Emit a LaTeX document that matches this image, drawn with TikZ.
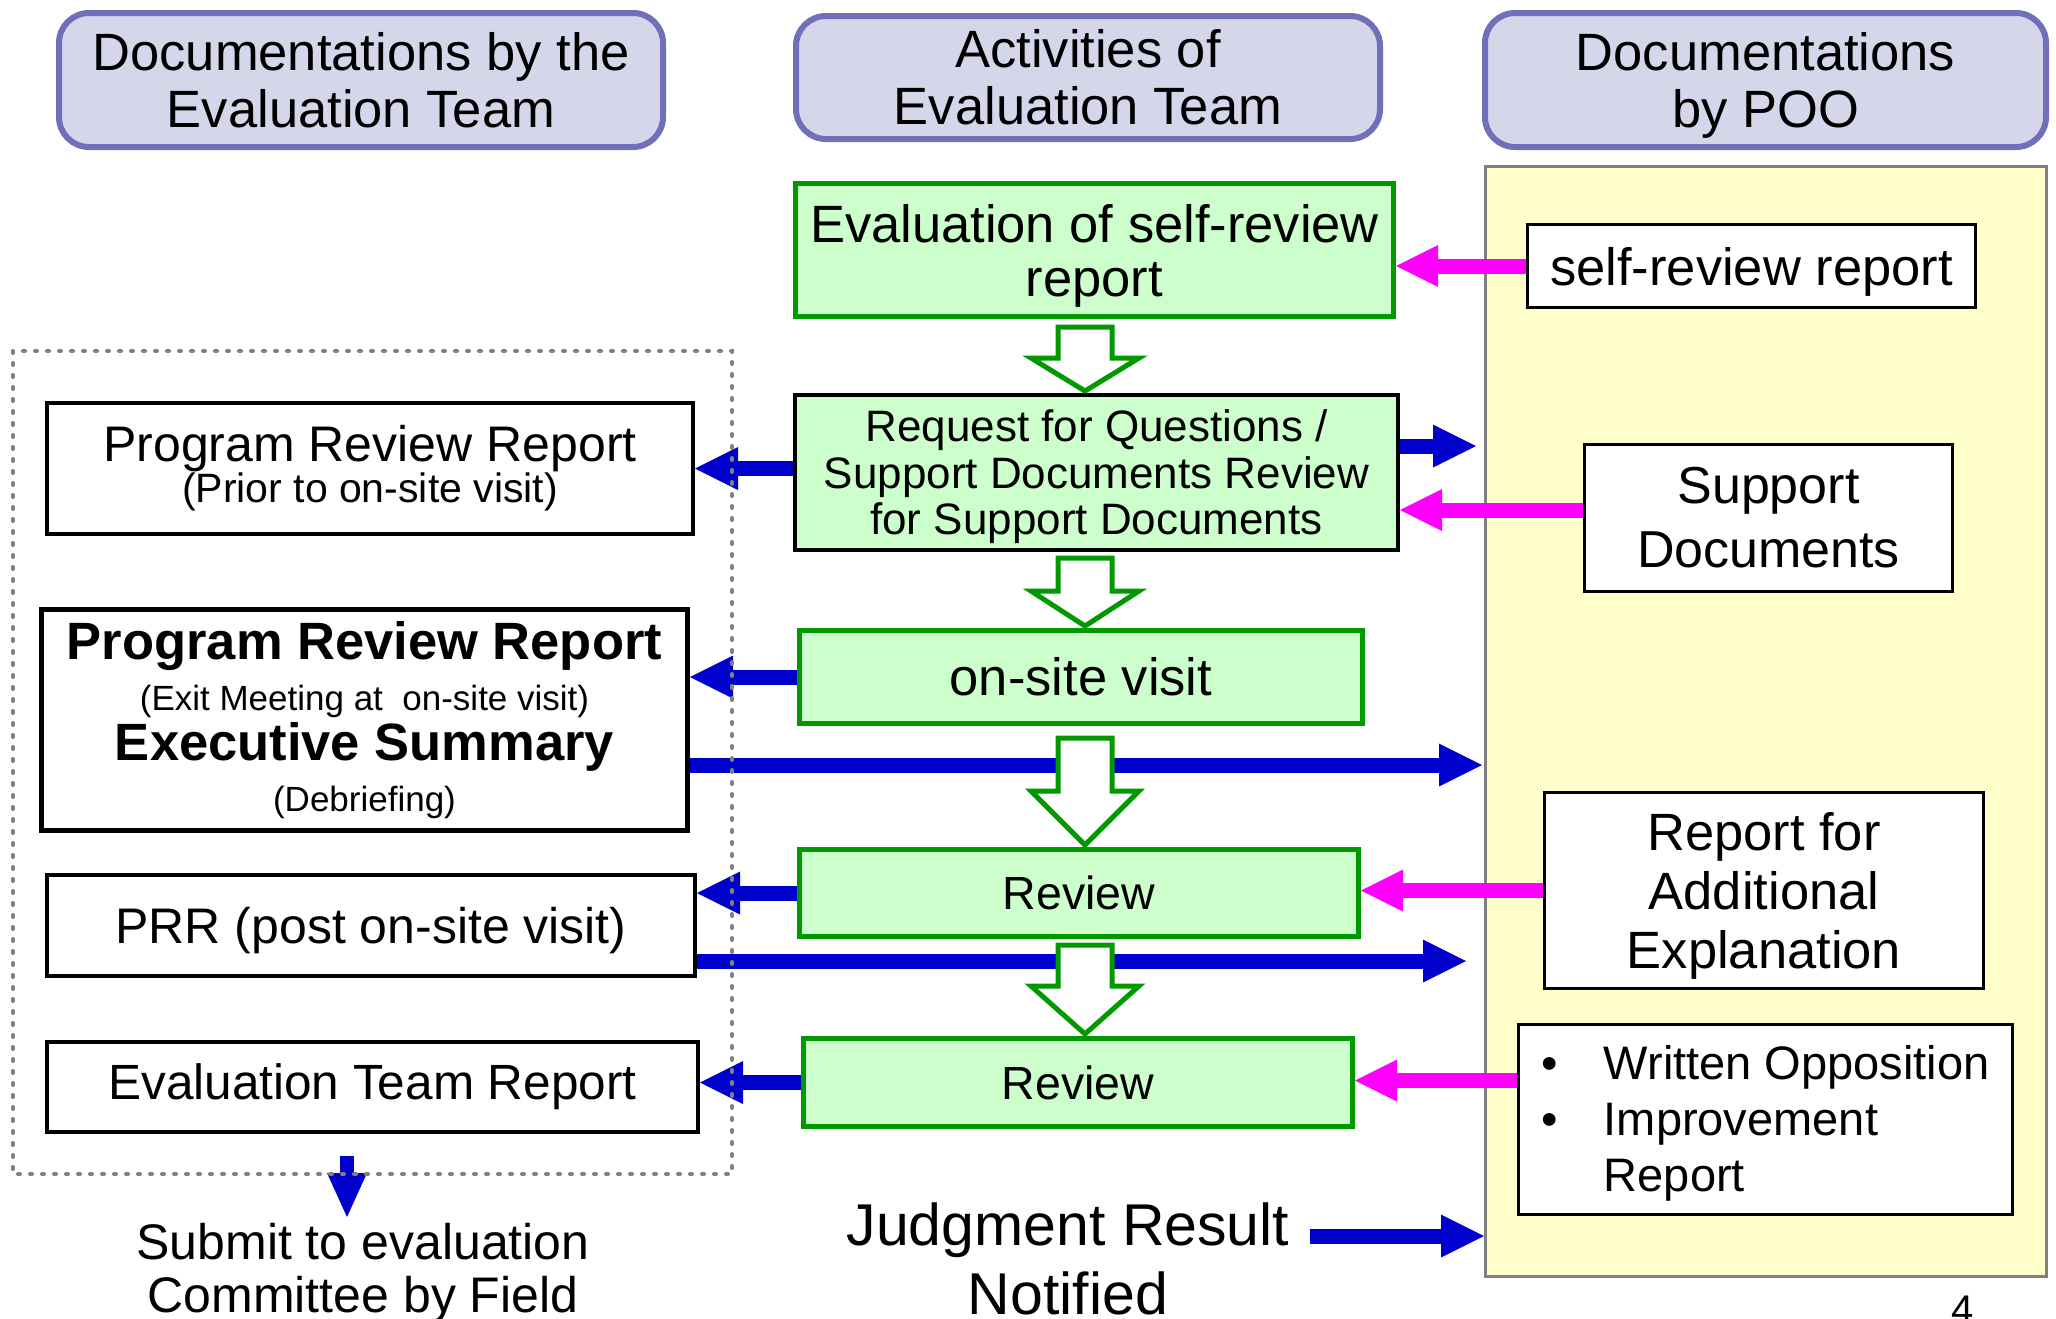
\documentclass[tikz,border=0pt]{standalone}
\usepackage{fontspec}
\setmainfont{Liberation Sans}
\usetikzlibrary{arrows.meta,calc}

\tikzset{every picture/.style={line width=0.75pt}}
\tikzset{
  headbox/.style={draw={rgb, 255:red, 112; green, 112; blue, 186}, fill={rgb, 255:red, 214; green, 214; blue, 235}, line width=6pt, rounded corners=30pt, align=center, inner sep=0pt, font=\fontsize{52.5}{57}\selectfont},
  actbox/.style={draw={rgb, 255:red, 0; green, 153; blue, 0}, fill={rgb, 255:red, 204; green, 255; blue, 204}, line width=5pt, align=center, inner sep=0pt},
  docbox/.style={draw=black, fill=white, line width=4pt, align=center, inner sep=0pt},
  poobox/.style={draw=black, fill=white, line width=2.5pt, align=center, inner sep=0pt},
  panel/.style={draw={rgb, 255:red, 128; green, 128; blue, 128}, fill={rgb, 255:red, 255; green, 255; blue, 204}, line width=3pt},
  tobox/.style={color={rgb, 255:red, 0; green, 0; blue, 204}, line width=15pt, -{Triangle[length=43pt,width=43pt,line width=0pt]}},
  todown/.style={color={rgb, 255:red, 0; green, 0; blue, 204}, line width=14pt, -{Triangle[length=44pt,width=40pt,line width=0pt]}},
  fromdoc/.style={color={rgb, 255:red, 255; green, 0; blue, 255}, line width=15pt, -{Triangle[length=42pt,width=42pt,line width=0pt]}},
  hollow/.style={draw={rgb, 255:red, 0; green, 153; blue, 0}, fill=white, line width=5pt, line join=miter},
  plain/.style={align=center, inner sep=0pt},
}

% hollow down arrow: from node, to node, gap, head length
\newcommand{\hollowdown}[4]{%
  \draw [hollow] ($(#1.south -| col)+(-27,#3)$) -- ($(#1.south -| col)+(27,#3)$) -- ($(#2.north -| col)+(27,-#4)$) -- ($(#2.north -| col)+(54,-#4)$) -- ($(#2.north -| col)+(0,-2)$) -- ($(#2.north -| col)+(-54,-#4)$) -- ($(#2.north -| col)+(-27,-#4)$) -- cycle ;}

\begin{document}
\begin{tikzpicture}[x=1pt,y=1pt,yscale=-1,xscale=1]
\useasboundingbox (0,0) rectangle (2056,1318);
\clip (0,0) rectangle (2056,1318);

%Shape: Rectangle [POO panel]
\draw (1766,721.5) node [panel, minimum width=561pt, minimum height=1110pt] (poo) {};

%Shape: Rounded Rect [headers]
\draw (361,80) node [headbox, minimum width=604pt, minimum height=134pt] (h1) {Documentations by the\\Evaluation Team};
\draw (1088,77.5) node [headbox, minimum width=584pt, minimum height=123pt] (h2) {Activities of\\Evaluation Team};
\draw (1765.5,80) node [headbox, text depth=0pt, minimum width=561pt, minimum height=134pt] (h3) {Documentations\\by POO};

%Shape: Rectangle [activities]
\draw (1094.5,250) node [actbox, text depth=0pt, minimum width=598pt, minimum height=133pt, font=\fontsize{52.5}{54}\selectfont] (g1) {Evaluation of self-review\\report};
\draw (1096.5,472.5) node [actbox, draw=black, line width=4pt, text depth=0pt, minimum width=603pt, minimum height=155pt, font=\fontsize{44}{46.5}\selectfont] (g2) {Request for Questions /\\Support Documents Review\\for Support Documents};
\draw (1081,677) node [actbox, minimum width=563pt, minimum height=93pt, font=\fontsize{52.5}{54}\selectfont] (g3) {on-site visit};
\draw (1079,893) node [actbox, minimum width=559pt, minimum height=87pt, font=\fontsize{46.5}{50}\selectfont] (g4) {Review};
\draw (1078,1082.5) node [actbox, minimum width=549pt, minimum height=88pt, font=\fontsize{46.5}{50}\selectfont] (g5) {Review};

%Shape: Rectangle [team documents]
\draw (370,468.5) node [docbox, minimum width=646pt, minimum height=131pt, font=\fontsize{50}{40}\selectfont] (l1) {Program Review Report\\{\fontsize{41}{40}\selectfont (Prior to on-site visit)}};
\draw (364.5,720) node [docbox, line width=5pt, minimum width=646pt, minimum height=221pt, font=\fontsize{52.5}{50.5}\selectfont] (l2) {{\bfseries Program Review Report}\\{\fontsize{35}{50.5}\selectfont (Exit Meeting at\ \ on-site visit)}\\{\bfseries Executive Summary}\\{\fontsize{35}{50.5}\selectfont (Debriefing)}};
\draw (371,925.5) node [docbox, text depth=0pt, minimum width=648pt, minimum height=101pt, font=\fontsize{50}{54}\selectfont] (l3) {PRR (post on-site visit)};
\draw (372.5,1087) node [docbox, minimum width=651pt, minimum height=90pt, font=\fontsize{49.5}{54}\selectfont] (l4) {Evaluation Team Report};

%Shape: Rectangle [POO documents]
\draw (1751.5,266) node [poobox, text depth=0pt, minimum width=448pt, minimum height=83pt, font=\fontsize{52.5}{56}\selectfont] (r1) {self-review report};
\draw (1768.5,518) node [poobox, minimum width=368pt, minimum height=147pt, font=\fontsize{52}{64}\selectfont] (r2) {Support\\Documents};
\draw (1764,890.5) node [poobox, text depth=0pt, minimum width=439pt, minimum height=196pt, font=\fontsize{52.5}{59}\selectfont] (r3) {Report for\\Additional\\Explanation};
\draw (1765.5,1119.5) node [poobox, text depth=69pt, minimum width=494pt, minimum height=190pt, font=\fontsize{47}{56}\selectfont] (r4) {\begin{tabular}{@{}l@{\hspace{46pt}}l@{}}\textbullet & Written Opposition\\ \textbullet & Improvement\\ & Report\end{tabular}};

% Text Node
\draw (363,1268) node [plain, text depth=0pt, font=\fontsize{50}{53}\selectfont] (submit) {Submit to evaluation\\Committee by Field};
% Text Node
\draw (1068,1259) node [plain, font=\fontsize{59}{69}\selectfont] (judg) {Judgment Result\\Notified};
% Text Node
\draw (1963,1296) node [anchor=north, inner sep=0pt, font=\fontsize{40}{40}\selectfont] (pg) {4};

\coordinate (col) at (1085,0);
\coordinate (p1) at (1476,446);
\coordinate (p2) at (1482,765);
\coordinate (p3) at (1466,961);
\coordinate (p4) at (1484,1236);
\coordinate (p5) at (347,1217);

%Straight Lines [blue]
\draw [tobox] (g2.west |- l1.east) -- (l1.east) ;
\draw [tobox] (g2.east |- p1) -- (p1) ;
\draw [tobox] (g3.west) -- (g3.west -| l2.east) ;
\draw [tobox] (l2.east |- p2) -- (p2) ;
\draw [tobox] (l3.east |- p3) -- (p3) ;
\draw [tobox] (g4.west) -- (g4.west -| l3.east) ;
\draw [tobox] (g5.west) -- (g5.west -| l4.east) ;
\draw [todown, shorten <=22pt] (p5 |- l4.south) -- (p5) ;
\draw [tobox, shorten <=20pt] (judg.east |- p4) -- (p4) ;

%Straight Lines [magenta]
\draw [fromdoc] (r1.west) -- (r1.west -| g1.east) ;
\draw [fromdoc] ([yshift=-8pt]r2.west) -- ([yshift=-8pt]r2.west -| g2.east) ;
\draw [fromdoc] (r3.west) -- (r3.west -| g4.east) ;
\draw [fromdoc] ([yshift=-39pt]r4.west) -- ([yshift=-39pt]r4.west -| g5.east) ;

%Shape: Down Arrow [hollow]
\hollowdown{g1}{g2}{8}{35}
\hollowdown{g2}{g3}{6}{37}
\hollowdown{g3}{g4}{12}{56}
\hollowdown{g4}{g5}{6}{50}

%Shape: Rectangle [dotted frame]
\draw [color={rgb, 255:red, 128; green, 128; blue, 128}, line width=4pt, line cap=round, dash pattern=on 2pt off 10pt] (13,351) rectangle (732,1174) ;

\end{tikzpicture}
\end{document}
